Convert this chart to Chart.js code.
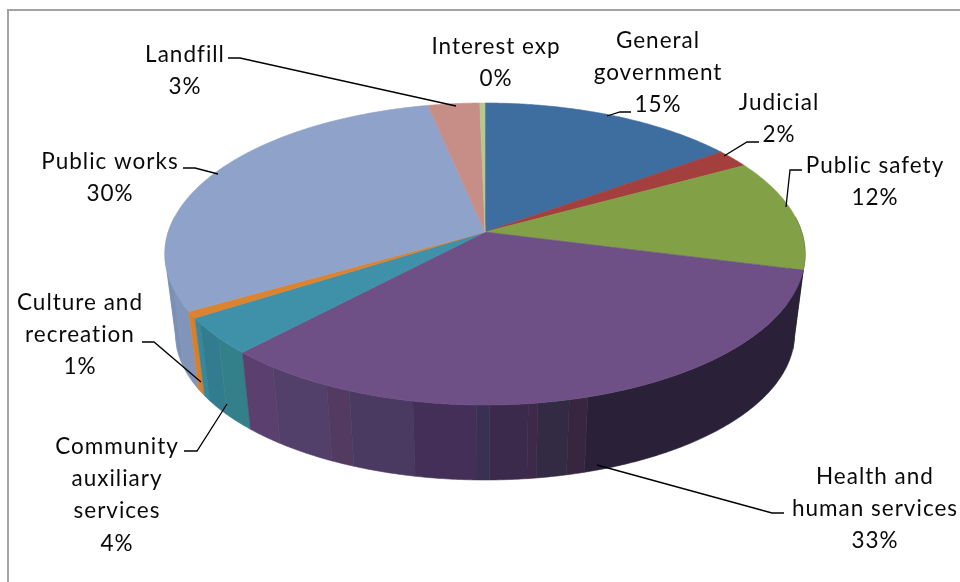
<!DOCTYPE html>
<html>
<head>
<meta charset="utf-8">
<title>Expenditures by function</title>
<script src="https://cdn.jsdelivr.net/npm/chart.js@4"></script>
<style>
  html, body { margin: 0; padding: 0; background: #fff; }
  canvas { display: block; }
</style>
</head>
<body>
<canvas id="pieChart" width="960" height="582"></canvas>
<script>
const categories = [
  'General government', 'Judicial', 'Public safety', 'Health and human services',
  'Community auxiliary services', 'Culture and recreation', 'Public works', 'Landfill', 'Interest exp'
];
const values = [15, 2, 12, 33, 4, 0.7, 30, 3, 0.3];

const sliceColors = ['#3e6d9f', '#a3403e', '#82a147', '#6f5086', '#3f90a9', '#dc8330', '#8fa2c9', '#c78d87', '#b5c98e'];

// side wall shades: [end of band as a share of the slice, colour]
const wallShades = [
  [[1, '#2f4f73']],
  [[1, '#732d2c']],
  [[1, '#2a2a26']],
  [[0.5, '#2a2138'], [0.524, '#38263f'], [0.568, '#332a44'], [0.58, '#3e294a'], [0.632, '#3b2a4c'],
   [0.645, '#3a3052'], [0.732, '#432f58'], [0.818, '#4a3a62'], [0.855, '#533a60'], [0.941, '#52406a'], [1, '#5b3f6e']],
  [[0.45, '#34808a'], [0.85, '#327c90'], [1, '#36889a']],
  [[1, '#d97f2c']],
  [[0.08, '#8195bb'], [0.14, '#7a90b6'], [1, '#8a9dc5']],
  [[1, '#8f6460']],
  [[1, '#7f8e64']]
];

// wrapped label text, centre x and first baseline of each label
const labelLines = [
  ['General', 'government'], ['Judicial'], ['Public safety'], ['Health and', 'human services'],
  ['Community', 'auxiliary', 'services'], ['Culture and', 'recreation'], ['Public works'], ['Landfill'], ['Interest exp']
];
const labelX = [658, 779, 875, 875, 117, 80, 110, 185, 496];
const labelY = [48, 110, 173, 484, 454, 310, 169, 62, 54];

const leaderLines = [
  [[631, 112], [620, 112], [607, 116]],
  [[759, 142], [747, 142], [724, 156]],
  [[802, 170], [790, 170], [786, 207]],
  [[784, 513], [772, 513], [597, 465]],
  [[184, 451], [197, 451], [227, 404]],
  [[142, 342], [154, 342], [201, 382]],
  [[183, 168], [195, 168], [218, 174]],
  [[228, 58], [240, 58], [456, 106]]
];

// tilt of the disc
const stretchX = 1.365;
const squashY = 0.637;
const perspective = 0.1457;
const depth = 80.7;
const bottomScale = 0.967;
const step = Math.PI / 360;

function rimPoint(arc, angle, level) {
  const u = Math.cos(angle);
  const v = Math.sin(angle);
  const w = 1 - perspective * v;
  const s = level ? bottomScale : 1;
  return [
    arc.x + arc.outerRadius * stretchX * s * u / w,
    arc.y + arc.outerRadius * squashY * s * v / w + (level ? depth : 0)
  ];
}

function fillPath(ctx, points, color) {
  ctx.beginPath();
  points.forEach((p, i) => i ? ctx.lineTo(p[0], p[1]) : ctx.moveTo(p[0], p[1]));
  ctx.closePath();
  ctx.fillStyle = color;
  ctx.strokeStyle = color;
  ctx.lineWidth = 0.6;
  ctx.fill();
  ctx.stroke();
}

function wallColor(index, share) {
  const band = wallShades[index].find(b => share <= b[0]);
  return band ? band[1] : wallShades[index][wallShades[index].length - 1][1];
}

function drawWalls(ctx, arcs) {
  // consecutive steps with the same shade become one polygon, so no seams show
  const panels = [];
  arcs.forEach((arc, index) => {
    const span = arc.endAngle - arc.startAngle;
    const steps = Math.max(1, Math.ceil(span / step));
    let panel = null;
    for (let i = 0; i < steps; i++) {
      const a = arc.startAngle + span * i / steps;
      const b = arc.startAngle + span * (i + 1) / steps;
      if (Math.sin(a) < -0.1 && Math.sin(b) < -0.1) { panel = null; continue; }
      const color = wallColor(index, (i + 0.5) / steps);
      if (!panel || panel.color !== color) {
        panel = { color, arc, angles: [a] };
        panels.push(panel);
      }
      panel.angles.push(b);
    }
  });
  const middle = p => Math.sin(p.angles[Math.floor(p.angles.length / 2)]);
  panels.sort((p, q) => middle(p) - middle(q));
  panels.forEach(p => {
    const upper = p.angles.map(a => rimPoint(p.arc, a, 0));
    const lower = p.angles.map(a => rimPoint(p.arc, a, 1)).reverse();
    fillPath(ctx, upper.concat(lower), p.color);
  });
}

function drawTop(ctx, arcs) {
  arcs.forEach((arc, index) => {
    const span = arc.endAngle - arc.startAngle;
    const steps = Math.max(2, Math.ceil(span / step));
    const points = [[arc.x, arc.y]];
    for (let i = 0; i <= steps; i++) {
      points.push(rimPoint(arc, arc.startAngle + span * i / steps, 0));
    }
    fillPath(ctx, points, sliceColors[index]);
  });
}

function drawLabels(chart) {
  const ctx = chart.ctx;
  const total = values.reduce((a, b) => a + b, 0);
  ctx.save();

  ctx.strokeStyle = '#000';
  ctx.lineWidth = 1.3;
  leaderLines.forEach(line => {
    ctx.beginPath();
    line.forEach((p, i) => i ? ctx.lineTo(p[0], p[1]) : ctx.moveTo(p[0], p[1]));
    ctx.stroke();
  });

  ctx.font = '22.5px Lato';
  ctx.letterSpacing = '1px';
  ctx.textAlign = 'center';
  ctx.fillStyle = '#0a0a0a';
  labelLines.forEach((lines, index) => {
    const percent = Math.round(values[index] / total * 100) + '%';
    lines.concat(percent).forEach((text, row) => {
      ctx.fillText(text, labelX[index], labelY[index] + row * 32.2);
    });
  });
  ctx.restore();
}

// replaces the flat arcs with a tilted disc, using the angles the pie controller worked out
const tiltedPie = {
  id: 'tiltedPie',
  beforeDraw(chart) {
    const ctx = chart.ctx;
    ctx.save();
    ctx.strokeStyle = '#a3a3a3';
    ctx.lineWidth = 2;
    ctx.strokeRect(8, 10, 1000, 1000);
    ctx.restore();
  },
  beforeDatasetDraw(chart, args) {
    const arcs = args.meta.data;
    chart.ctx.save();
    drawWalls(chart.ctx, arcs);
    drawTop(chart.ctx, arcs);
    chart.ctx.restore();
    return false;
  },
  afterDraw: drawLabels
};

new Chart(document.getElementById('pieChart').getContext('2d'), {
  type: 'pie',
  data: {
    labels: categories,
    datasets: [{ data: values, backgroundColor: sliceColors, borderWidth: 0 }]
  },
  options: {
    responsive: false,
    animation: false,
    layout: { padding: { left: 10, right: 0, top: 0, bottom: 118 } },
    plugins: { legend: { display: false }, tooltip: { enabled: false } }
  },
  plugins: [tiltedPie]
});
</script>
</body>
</html>
